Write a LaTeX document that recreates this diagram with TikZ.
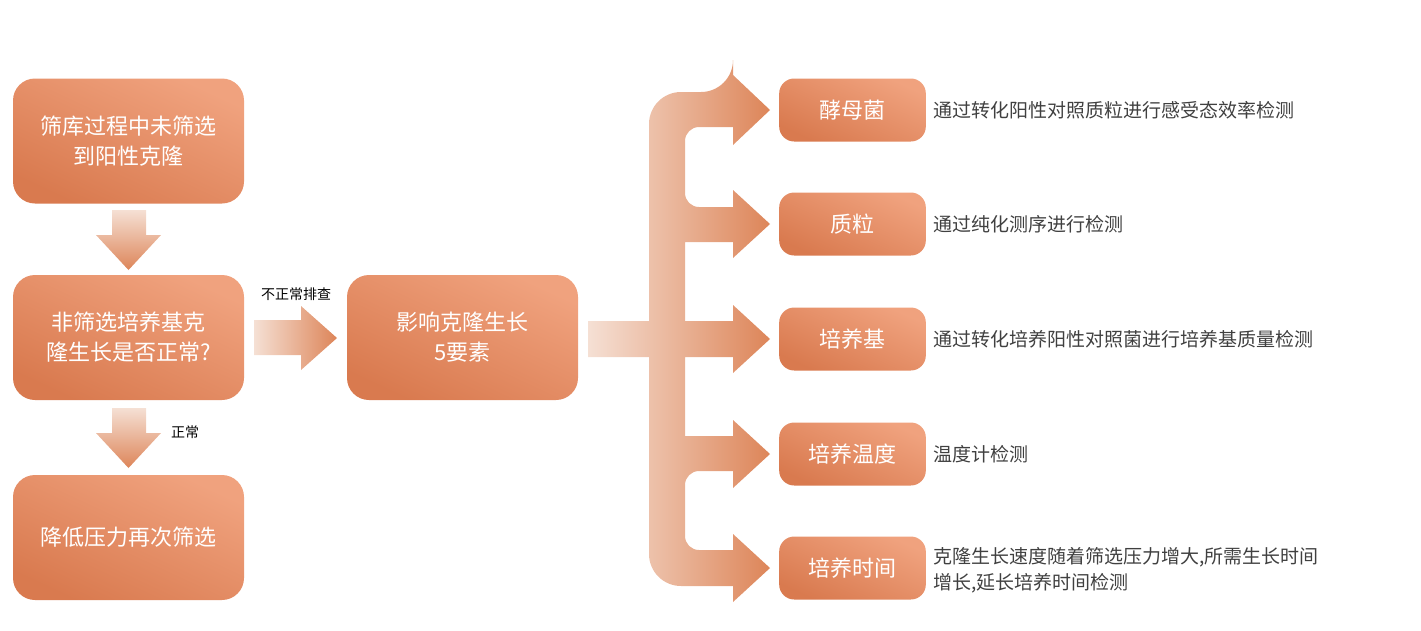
\documentclass[tikz,border=0pt]{standalone}
\usepackage{fontspec}
\setmainfont{Noto Sans CJK SC}
\usetikzlibrary{positioning}
\definecolor{boxlight}{HTML}{F0A27E}
\definecolor{boxdark}{HTML}{D97A4F}
\definecolor{arrlight}{HTML}{F5E0D4}
\definecolor{arrdark}{HTML}{DD8559}
\definecolor{txtgray}{HTML}{404040}
\tikzset{
  stepbox/.style={rounded corners=22pt, minimum width=231pt, minimum height=125pt, text width=210pt, align=center,
    text=white, font=\fontsize{22}{30}\selectfont, shading=axis, top color=boxlight, bottom color=boxdark, shading angle=-25},
  itembox/.style={stepbox, rounded corners=15pt, minimum width=145pt, minimum height=63pt, text width=140pt},
  desc/.style={anchor=west, text=txtgray, font=\fontsize{19}{26}\selectfont, align=left},
  small/.style={font=\fontsize{14}{18}\selectfont}
}
\begin{document}
\begin{tikzpicture}[x=1pt,y=-1pt]
\useasboundingbox (0,0) rectangle (1421,630);
% left column
\node[stepbox] (lost) at (128.5,141) {筛库过程中未筛选\\到阳性克隆};
\node[stepbox] (check) at (128.5,337.5) {非筛选培养基克\\隆生长是否正常?};
\node[stepbox] (lower) at (128.5,537.5) {降低压力再次筛选};
\node[stepbox] (five) at (462.5,337.5) {影响克隆生长\\5要素};
% block arrows
\shade[top color=arrlight, bottom color=arrdark]
  (112,210) -- (146,210) -- (146,235) -- (161,235) -- (128.5,270) -- (96,235) -- (112,235) -- cycle;
\shade[top color=arrlight, bottom color=arrdark]
  (112,408) -- (146,408) -- (146,433) -- (161,433) -- (128.5,468) -- (96,433) -- (112,433) -- cycle;
\shade[left color=arrlight, right color=arrdark]
  (254,320) -- (301,320) -- (301,306) -- (337,338) -- (301,370) -- (301,355) -- (254,355) -- cycle;
\node[small] (abn) at (296,294) {不正常排查};
\node[small] (ok) at (185,432) {正常};
% bracket
\shade[left color=arrlight, right color=arrdark]
  (588,321) -- (649,321) [rounded corners=32pt] -- (649,92) -- (733,92) [sharp corners] -- (733,75) -- (770,110) -- (733,145) -- (733,127)
  [rounded corners=14pt] -- (685,127) -- (685,207) [sharp corners] -- (733,207) -- (733,190) -- (770,224) -- (733,258) -- (733,242)
  -- (685,242) -- (685,321) -- (733,321) -- (733,305) -- (770,339) -- (733,373) -- (733,357)
  -- (685,357) -- (685,436) -- (733,436) -- (733,420) -- (770,454) -- (733,488) -- (733,471)
  [rounded corners=14pt] -- (685,471) -- (685,550) [sharp corners] -- (733,550) -- (733,534) -- (770,568) -- (733,602) -- (733,586)
  [rounded corners=32pt] -- (649,586) [sharp corners] -- (649,357) -- (588,357) -- cycle;
% right column
\foreach \y/\name/\lab/\txt in {110/yeast/酵母菌/通过转化阳性对照质粒进行感受态效率检测,
    224/plasmid/质粒/通过纯化测序进行检测,
    339/medium/培养基/通过转化培养阳性对照菌进行培养基质量检测,
    454/temp/培养温度/温度计检测} {
  \node[itembox] (\name) at (852.5,\y) {\lab};
  \node[desc] (\name-d) at (930,\y) {\txt};
}
\node[itembox] (time) at (852.5,568) {培养时间};
\node[desc] (time-d) at (930,570) {克隆生长速度随着筛选压力增大,所需生长时间\\增长,延长培养时间检测};
\end{tikzpicture}
\end{document}
